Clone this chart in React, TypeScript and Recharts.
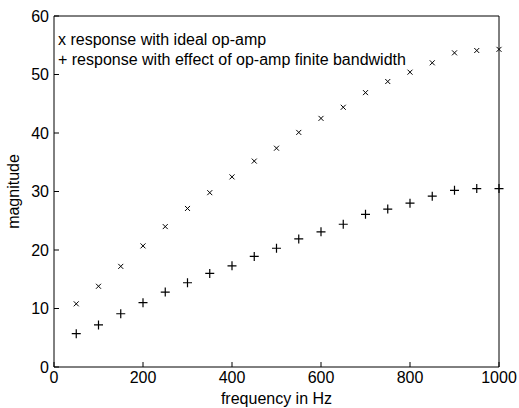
import { ScatterChart, Scatter, XAxis, YAxis, Legend } from "recharts";

const frequency = [
  50, 100, 150, 200, 250, 300, 350, 400, 450, 500, 550, 600, 650, 700, 750,
  800, 850, 900, 950, 1000,
];
const idealResponse = [
  10.8, 13.8, 17.2, 20.7, 24.0, 27.1, 29.8, 32.5, 35.2, 37.4, 40.1, 42.5, 44.4,
  46.9, 48.8, 50.4, 52.0, 53.7, 54.1, 54.3,
];
const finiteResponse = [
  5.7, 7.2, 9.1, 11.0, 12.8, 14.4, 16.0, 17.3, 18.9, 20.3, 21.9, 23.1, 24.4,
  26.1, 27.0, 28.0, 29.2, 30.2, 30.5, 30.5,
];
const xTicks = [0, 200, 400, 600, 800, 1000];
const yTicks = [0, 10, 20, 30, 40, 50, 60];

const idealData = frequency.map((f, i) => ({ f, v: idealResponse[i] }));
const finiteData = frequency.map((f, i) => ({ f, v: finiteResponse[i] }));

const font = "'Liberation Sans', Arial, sans-serif";

// small x marker
const Cross = (props: any) => {
  const { cx, cy } = props;
  const r = 2.5;
  return (
    <path
      d={`M${cx - r},${cy - r}L${cx + r},${cy + r}M${cx - r},${cy + r}L${cx + r},${cy - r}`}
      stroke="#000"
      strokeWidth={1}
      fill="none"
    />
  );
};

// plus marker
const Plus = (props: any) => {
  const { cx, cy } = props;
  const r = 4.5;
  return (
    <path
      d={`M${cx - r},${cy}L${cx + r},${cy}M${cx},${cy - r}L${cx},${cy + r}`}
      stroke="#000"
      strokeWidth={1.2}
      fill="none"
    />
  );
};

const renderLegend = (props: any) => {
  const { payload } = props;
  return (
    <div style={{ fontFamily: font, fontSize: 16, lineHeight: "20px", color: "#000" }}>
      {payload.map((p: any) => (
        <div key={p.value} style={{ whiteSpace: "nowrap" }}>
          {p.value}
        </div>
      ))}
    </div>
  );
};

const tickStyle = { fill: "#000", fontSize: 16, fontFamily: font };

export default function App() {
  return (
    <div style={{ position: "absolute", left: 0, top: 0, background: "#fff" }}>
      <ScatterChart
        width={519}
        height={408}
        margin={{ top: 15, right: 19, bottom: 0, left: 0 }}
        style={{ fontFamily: font }}
      >
        <XAxis
          type="number"
          dataKey="f"
          domain={[0, 1000]}
          ticks={xTicks}
          height={41}
          tickSize={-5}
          tickMargin={10}
          tick={tickStyle}
          axisLine={{ stroke: "#000" }}
          tickLine={{ stroke: "#000" }}
          label={{
            value: "frequency in Hz",
            position: "insideBottom",
            offset: 4,
            fill: "#000",
            fontSize: 16,
            fontFamily: font,
          }}
        />
        <XAxis
          xAxisId="top"
          orientation="top"
          type="number"
          dataKey="f"
          domain={[0, 1000]}
          ticks={xTicks}
          height={1}
          tickSize={-5}
          tick={false}
          axisLine={{ stroke: "#000" }}
          tickLine={{ stroke: "#000" }}
        />
        <YAxis
          type="number"
          dataKey="v"
          domain={[0, 60]}
          ticks={yTicks}
          width={54}
          tickSize={-5}
          tickMargin={10}
          tick={tickStyle}
          axisLine={{ stroke: "#000" }}
          tickLine={{ stroke: "#000" }}
          label={{
            value: "magnitude",
            angle: -90,
            position: "insideLeft",
            offset: 13,
            fill: "#000",
            fontSize: 16,
            fontFamily: font,
            style: { textAnchor: "middle" },
          }}
        />
        <YAxis
          yAxisId="right"
          orientation="right"
          type="number"
          dataKey="v"
          domain={[0, 60]}
          ticks={yTicks}
          width={1}
          tickSize={-5}
          tick={false}
          axisLine={{ stroke: "#000" }}
          tickLine={{ stroke: "#000" }}
        />
        <Legend
          content={renderLegend}
          layout="horizontal"
          verticalAlign="middle"
          align="center"
          itemSorter={null}
          wrapperStyle={{ top: 30, left: 58, width: "auto" }}
        />
        <Scatter
          name="x response with ideal op-amp"
          data={idealData}
          shape={Cross}
          isAnimationActive={false}
        />
        <Scatter
          name="+ response with effect of op-amp finite bandwidth"
          data={finiteData}
          shape={Plus}
          isAnimationActive={false}
        />
      </ScatterChart>
    </div>
  );
}
